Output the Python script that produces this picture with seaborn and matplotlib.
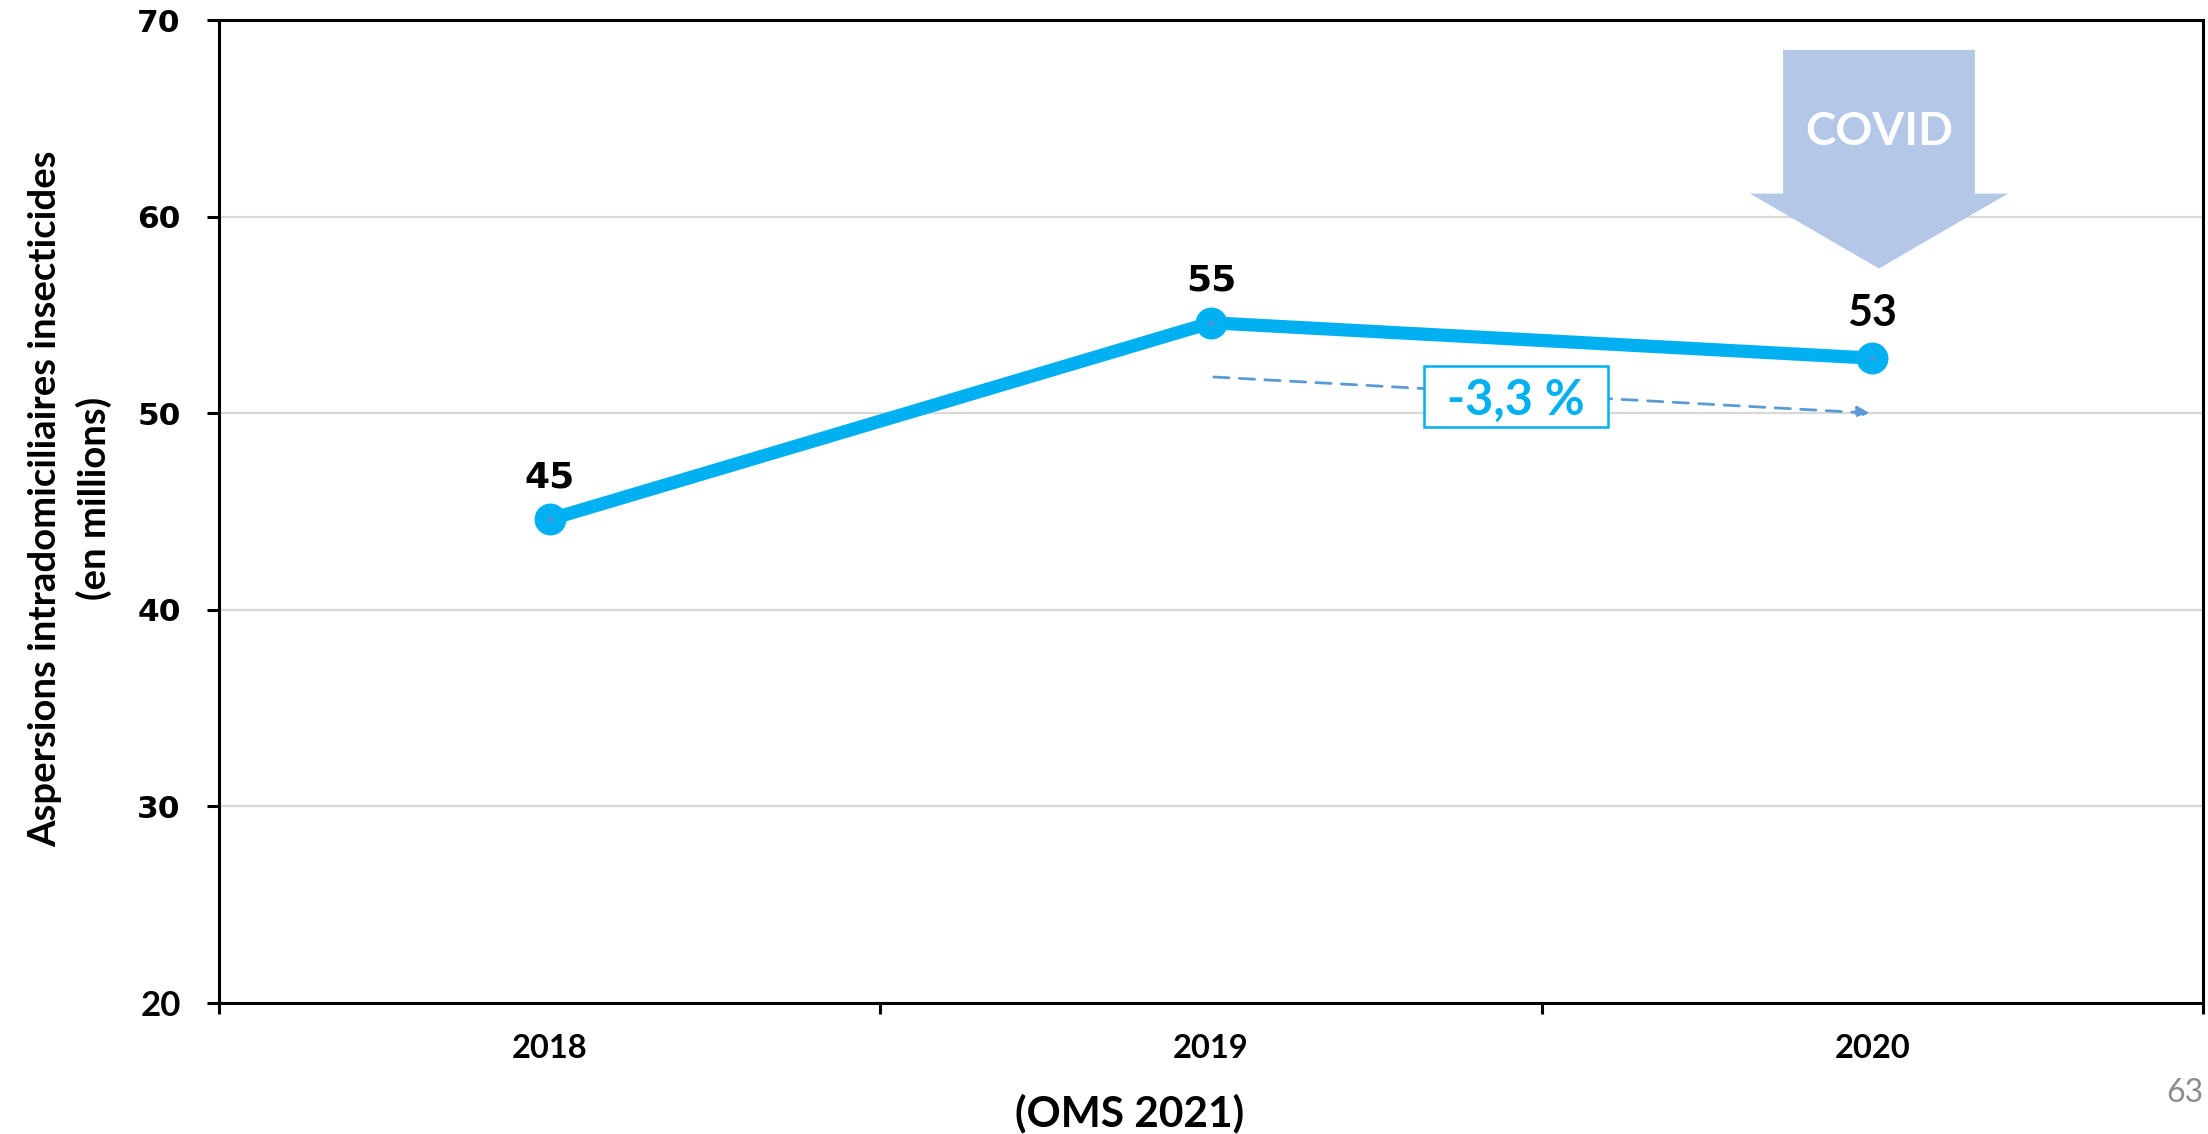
import matplotlib
matplotlib.use("Agg")
import matplotlib.pyplot as plt
import numpy as np
import pandas as pd
import seaborn as sns
from matplotlib.patches import Polygon, Rectangle, FancyArrowPatch

# Indoor residual spraying, millions of people protected (WHO 2021)
years = ["2018", "2019", "2020"]
values = [44.6, 54.6, 52.8]
y_ticks = [20, 30, 40, 50, 60, 70]

LINE = "#00b0f0"
TREND = "#5b9bd5"
COVID = "#b4c7e7"
GRID = "#d9d9d9"
SANS_NARROW = "Lato"   # humanist face for the labels set in a narrower type

sns.set_theme(style="white")
plt.rcParams["font.family"] = ["DejaVu Sans"]

W, H = 2208, 1134
fig, ax = plt.subplots(figsize=(W / 100, H / 100), dpi=100)
fig.subplots_adjust(left=219 / W, right=2203 / W, bottom=1 - 1003 / H, top=1 - 20 / H)

df = pd.DataFrame({"Année": years, "Aspersions": values})
sns.lineplot(data=df, x="Année", y="Aspersions", ax=ax, sort=False,
             color=LINE, linewidth=9.5, marker="o", markersize=23,
             markeredgewidth=0, zorder=3)
# small centre dot on each marker
ax.scatter(range(len(years)), values, s=10, color="#7189c9", zorder=4, linewidths=0)

ax.set_xlim(-0.5, len(years) - 0.5)
ax.set_ylim(y_ticks[0], y_ticks[-1])
ax.set_yticks(y_ticks)
ax.set_yticklabels([str(t) for t in y_ticks], fontweight="bold", fontsize=22.5)
ax.get_yticklabels()[0].set_fontfamily(SANS_NARROW)
ax.get_yticklabels()[0].set_fontsize(25)

ax.set_xticks(range(len(years)))
ax.set_xticklabels(years, fontweight="bold", fontsize=23.5, fontfamily=SANS_NARROW)
ax.set_xticks(np.arange(-0.5, len(years)), minor=True)

ax.tick_params(axis="y", which="major", direction="out", length=8.6, width=2.2,
               color="black", pad=19, left=True, labelcolor="black")
ax.tick_params(axis="x", which="major", length=0, pad=22, labelcolor="black")
ax.tick_params(axis="x", which="minor", direction="out", length=8, width=2.2,
               color="black", bottom=True)

for sp in ax.spines.values():
    sp.set_visible(True)
    sp.set_color("black")
    sp.set_linewidth(2.2)

ax.yaxis.grid(True, color=GRID, linewidth=1.6)
ax.xaxis.grid(False)
ax.set_axisbelow(True)

# axis titles
ax.set_ylabel("Aspersions intradomiciliaires insecticides\n(en millions)",
              fontfamily=SANS_NARROW, fontweight="bold", fontsize=27.5,
              linespacing=1.45, color="black")
ax.yaxis.label.set_va("center")
ax.yaxis.set_label_coords(-0.075, 0.513)

ax.set_xlabel("(OMS 2021)", fontfamily=SANS_NARROW, fontweight="bold",
              fontsize=30.5, color="black")
ax.xaxis.label.set_va("center")
ax.xaxis.set_label_coords(0.459, -0.112)

# value labels above the points
label_fonts = ["DejaVu Sans", "DejaVu Sans", SANS_NARROW]
label_sizes = [26, 26, 31]
for i, v in enumerate(values):
    ax.annotate(f"{v:.0f}", (i, v), xytext=(0, 23), textcoords="offset points",
                ha="center", va="baseline", fontweight="bold",
                fontfamily=label_fonts[i], fontsize=label_sizes[i],
                color="black", zorder=5)

# dashed trend arrow 2019 -> 2020 with the relative change
change = (values[2] - values[1]) / values[1] * 100
trend = FancyArrowPatch((1.0, 51.85), (2.0, 50.0), arrowstyle="-|>",
                        mutation_scale=18, color=TREND, linewidth=2,
                        linestyle=(0, (5.5, 3.7)), zorder=2)
ax.add_patch(trend)
ax.add_patch(Rectangle((1.322, 49.29), 0.278, 3.10, facecolor="white",
                       edgecolor=LINE, linewidth=1.8, zorder=3))
ax.text(1.461, 49.9, f"{change:.1f}".replace(".", ",") + " %",
        ha="center", va="baseline", color=LINE, fontfamily=SANS_NARROW,
        fontweight="bold", fontsize=35, zorder=4)

# COVID block arrow over 2020
cx = 2.01
arrow_pts = [(cx - 0.145, 68.48), (cx + 0.145, 68.48), (cx + 0.145, 61.17),
             (cx + 0.195, 61.17), (cx, 57.36), (cx - 0.195, 61.17),
             (cx - 0.145, 61.17)]
ax.add_patch(Polygon(arrow_pts, closed=True, facecolor=COVID, edgecolor="none",
                     zorder=2))
ax.text(cx, 64.3, "COVID", ha="center", va="center", color="white",
        fontfamily=SANS_NARROW, fontweight="bold", fontsize=33, zorder=3)

# slide number
fig.text(2203 / W, 1 - 1102 / H, "63", ha="right", va="baseline",
         color="#8c8c8c", fontfamily=SANS_NARROW, fontsize=23)

fig.savefig("out.png", dpi=100, facecolor="white")
